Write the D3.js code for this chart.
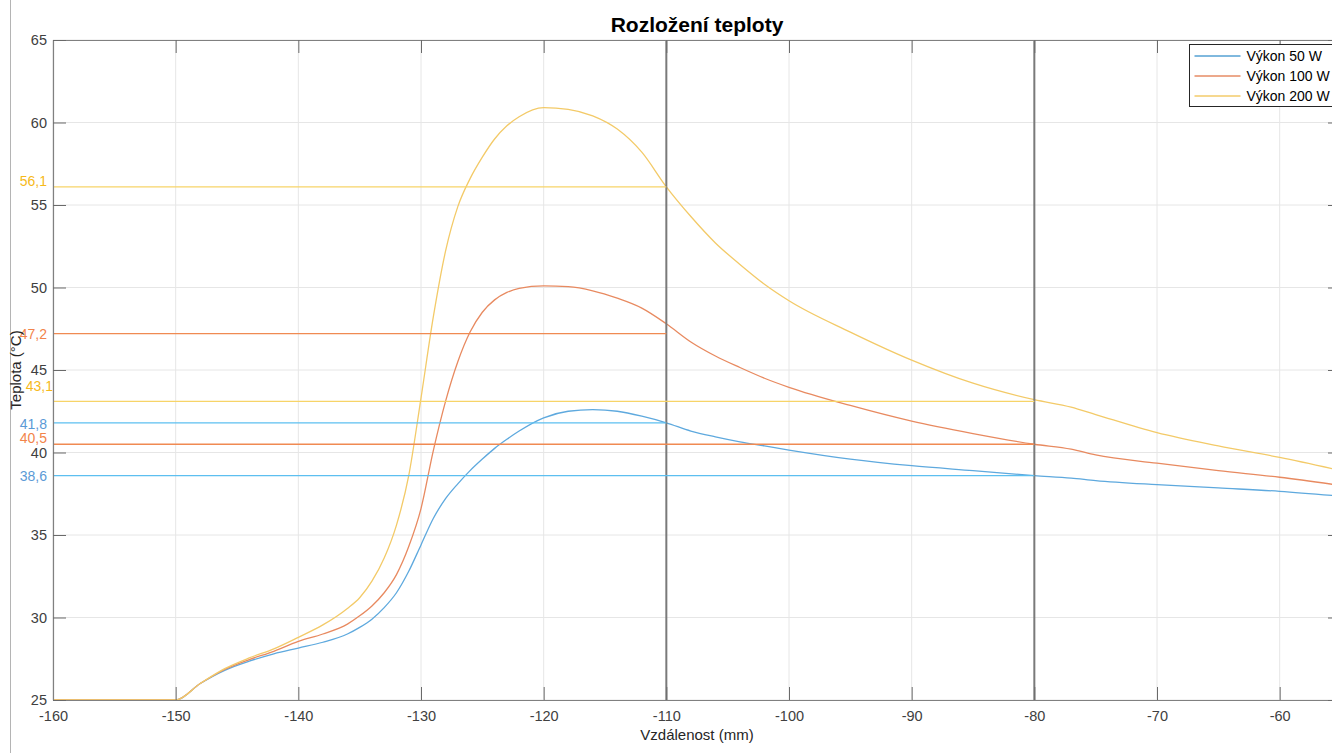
<!DOCTYPE html>
<html>
<head>
<meta charset="utf-8">
<script src="https://cdn.jsdelivr.net/npm/d3@7"></script>
<style>
  body { margin: 0; background: #fff; }
  svg { display: block; }
  text { font-family: "Liberation Sans", Arial, Helvetica, sans-serif; }
</style>
</head>
<body>
<svg id="chart" width="1332" height="753"></svg>
<script>
// Distance along the probe (mm)
const distance = [-160, -150, -148, -146, -144, -142, -140, -138, -136, -135, -134, -133, -132, -131, -130, -129, -128, -127, -126, -125, -124, -123, -122, -120, -118, -116, -114, -112, -110, -108, -106, -104, -102, -100, -95, -90, -85, -80, -77, -75, -70, -65, -60, -55];

// Temperature (°C) for each heating power
const power50 = [25, 25, 26.0, 26.8, 27.35, 27.8, 28.15, 28.5, 29.0, 29.4, 29.9, 30.6, 31.5, 32.8, 34.4, 36.0, 37.2, 38.1, 38.9, 39.6, 40.25, 40.8, 41.3, 42.1, 42.5, 42.6, 42.5, 42.2, 41.8, 41.3, 40.95, 40.65, 40.4, 40.15, 39.6, 39.2, 38.9, 38.6, 38.45, 38.3, 38.05, 37.85, 37.65, 37.35];
const power100 = [25, 25, 26.0, 26.85, 27.45, 27.95, 28.55, 29.0, 29.6, 30.1, 30.7, 31.5, 32.6, 34.3, 36.6, 40.1, 43.1, 45.5, 47.3, 48.5, 49.25, 49.7, 49.95, 50.1, 50.05, 49.8, 49.35, 48.75, 47.8, 46.7, 45.85, 45.15, 44.5, 43.95, 42.85, 41.9, 41.15, 40.5, 40.2, 39.85, 39.35, 38.9, 38.5, 38.0];
const power200 = [25, 25, 26.0, 26.9, 27.55, 28.1, 28.8, 29.55, 30.55, 31.2, 32.2, 33.6, 35.6, 38.6, 43.3, 48.2, 52.2, 54.9, 56.6, 57.9, 59.0, 59.8, 60.35, 60.9, 60.8, 60.4, 59.6, 58.2, 56.1, 54.3, 52.7, 51.4, 50.2, 49.2, 47.3, 45.6, 44.2, 43.2, 42.75, 42.3, 41.2, 40.4, 39.7, 38.9];

const seriesNames = ["Výkon 50 W", "Výkon 100 W", "Výkon 200 W"];

const xTicks = [-160, -150, -140, -130, -120, -110, -100, -90, -80, -70, -60];
const yTicks = [25, 30, 35, 40, 45, 50, 55, 60, 65];

// Read-off levels: value, label, end of the guide line, owning series
const levelValues = [56.1, 47.2, 43.1, 41.8, 40.5, 38.6];
const levelLabels = ["56,1", "47,2", "43,1", "41,8", "40,5", "38,6"];
const levelEnds = [-110, -110, -80, -110, -80, -80];
const levelSeries = [2, 1, 2, 0, 1, 0];

// Measuring positions marked with vertical lines
const markerPositions = [-110, -80];

// ---- drawing ----
const svg = d3.select("#chart");
const W = 1332, H = 753;
const mLeft = 53, mRight = 1341, mTop = 40, mBottom = 700;

const x = d3.scaleLinear().domain([-160, -55]).range([mLeft, mRight]);
const y = d3.scaleLinear().domain([25, 65]).range([mBottom, mTop]);

const lineColors = ["#0072BD", "#D95319", "#EDB120"];
const curveColors = ["#5ea9de", "#e88a60", "#f3ca68"];
const guideColors = ["#5cbff0", "#f08a52", "#f7d468"];
const labelColors = ["#5b9ad6", "#f2844a", "#f6b91a"];

// frame edge on the far left
svg.append("line").attr("x1", 10.5).attr("x2", 10.5).attr("y1", 0).attr("y2", H)
  .attr("stroke", "#b4b4b4").attr("stroke-width", 1);

svg.append("defs").append("clipPath").attr("id", "plotArea")
  .append("rect").attr("x", mLeft).attr("y", mTop).attr("width", mRight - mLeft).attr("height", mBottom - mTop);

// grid
const grid = svg.append("g");
grid.selectAll(".gx").data(xTicks).join("line")
  .attr("x1", d => x(d)).attr("x2", d => x(d)).attr("y1", mTop).attr("y2", mBottom)
  .attr("stroke", "#e6e6e6").attr("stroke-width", 1);
grid.selectAll(".gy").data(yTicks).join("line")
  .attr("x1", mLeft).attr("x2", mRight).attr("y1", d => y(d)).attr("y2", d => y(d))
  .attr("stroke", "#e6e6e6").attr("stroke-width", 1);

const plot = svg.append("g").attr("clip-path", "url(#plotArea)");

// temperature curves
const series = [power50, power100, power200];
const line = d3.line().x((d, i) => x(distance[i])).y(d => y(d)).curve(d3.curveMonotoneX);
series.forEach((vals, k) => {
  plot.append("path").datum(vals).attr("d", line)
    .attr("fill", "none").attr("stroke", curveColors[k]).attr("stroke-width", 1.3);
});

// vertical measuring lines
plot.selectAll(".marker").data(markerPositions).join("line")
  .attr("x1", d => x(d)).attr("x2", d => x(d)).attr("y1", mTop).attr("y2", mBottom)
  .attr("stroke", "#7a7a7a").attr("stroke-width", 2);

// horizontal read-off guides
levelValues.forEach((v, i) => {
  plot.append("line")
    .attr("x1", x(-160)).attr("x2", x(levelEnds[i]))
    .attr("y1", y(v)).attr("y2", y(v))
    .attr("stroke", guideColors[levelSeries[i]]).attr("stroke-width", 1.3);
});

// axes box with inward ticks
const axisColor = "#808080";
const textColor = "#404040";
const tickLen = 13;
const fmt = d => String(d);

const xAxisB = d3.axisBottom(x).tickValues(xTicks).tickSizeInner(-tickLen).tickSizeOuter(0).tickPadding(8).tickFormat(fmt);
const xAxisT = d3.axisTop(x).tickValues(xTicks).tickSizeInner(-tickLen).tickSizeOuter(0).tickFormat("");
const yAxisL = d3.axisLeft(y).tickValues(yTicks).tickSizeInner(-tickLen).tickSizeOuter(0).tickPadding(6).tickFormat(fmt);
const yAxisR = d3.axisRight(y).tickValues(yTicks).tickSizeInner(-tickLen).tickSizeOuter(0).tickFormat("");

function style(g) {
  g.select(".domain").attr("stroke", axisColor).attr("stroke-width", 1.2);
  g.selectAll(".tick line").attr("stroke", "#6a6a6a").attr("stroke-width", 1);
  g.selectAll(".tick text").attr("fill", textColor).attr("font-size", 14.5);
}
svg.append("g").attr("transform", `translate(0,${mBottom})`).call(xAxisB).call(style)
  .selectAll(".tick text").attr("dy", "0.9em");
svg.append("g").attr("transform", `translate(0,${mTop})`).call(xAxisT).call(style);
svg.append("g").attr("transform", `translate(${mLeft},0)`).call(yAxisL).call(style);
svg.append("g").attr("transform", `translate(${mRight},0)`).call(yAxisR).call(style);

// level labels beside the y axis (vertical nudge, horizontal nudge)
const labelShift = { "56,1": [-6, 0], "43,1": [-15, 6], "41,8": [1, 0], "40,5": [-6, 0] };
levelValues.forEach((v, i) => {
  const s = labelShift[levelLabels[i]] || [0, 0];
  svg.append("text")
    .attr("x", 47 + s[1]).attr("y", y(v) + s[0])
    .attr("text-anchor", "end").attr("dominant-baseline", "central")
    .attr("font-size", 14).attr("fill", labelColors[levelSeries[i]])
    .text(levelLabels[i]);
});

// title and axis labels
svg.append("text").attr("x", (mLeft + mRight) / 2).attr("y", 32)
  .attr("text-anchor", "middle").attr("font-size", 21).attr("font-weight", "bold").attr("fill", "#000")
  .text("Rozložení teploty");
svg.append("text").attr("x", (mLeft + mRight) / 2).attr("y", 740)
  .attr("text-anchor", "middle").attr("font-size", 15).attr("fill", "#262626")
  .text("Vzdálenost (mm)");
svg.append("text").attr("transform", `translate(21,${(mTop + mBottom) / 2}) rotate(-90)`)
  .attr("text-anchor", "middle").attr("font-size", 15).attr("fill", "#262626")
  .text("Teplota (°C)");

// legend
const lg = svg.append("g").attr("transform", "translate(1189.5,44.5)");
lg.append("rect").attr("width", 160).attr("height", 62)
  .attr("fill", "#fff").attr("stroke", "#262626").attr("stroke-width", 1);
seriesNames.forEach((name, k) => {
  const cy = 11.5 + k * 20;
  lg.append("line").attr("x1", 5).attr("x2", 51).attr("y1", cy).attr("y2", cy)
    .attr("stroke", lineColors[k]).attr("stroke-width", 1);
  lg.append("text").attr("x", 57).attr("y", cy).attr("dominant-baseline", "central")
    .attr("font-size", 14).attr("fill", "#000").text(name);
});
</script>
</body>
</html>
